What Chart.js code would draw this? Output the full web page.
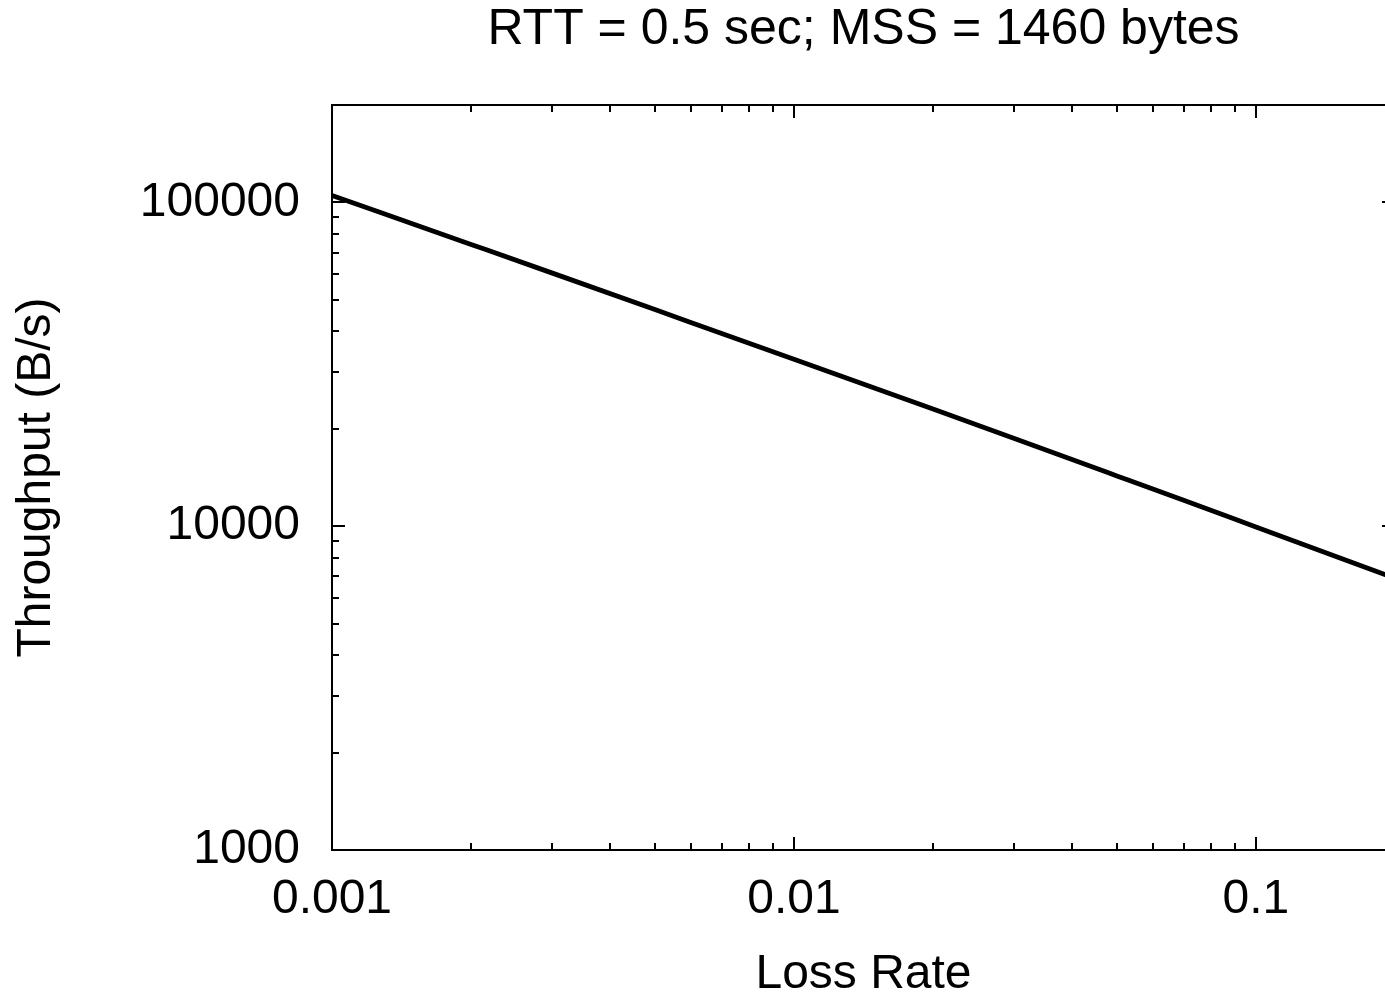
<!DOCTYPE html>
<html>
<head>
<meta charset="utf-8">
<script src="https://cdn.jsdelivr.net/npm/chart.js@4"></script>
<style>
  html, body { margin: 0; padding: 0; background: #fff; overflow: hidden; }
  #wrap { width: 1400px; height: 1000px; position: relative; }
</style>
</head>
<body>
<div id="wrap"><canvas id="chart_throughput"></canvas></div>
<script>
// loss rate (x) and throughput in bytes/s (y)
var lossRate = [0.001, 0.002, 0.003, 0.005, 0.007, 0.01, 0.02, 0.03, 0.05, 0.07, 0.1, 0.15, 0.2];
var throughput = [105100, 74200, 60500, 46700, 39300, 32800, 23000, 18650, 14300, 12000, 9950, 8040, 6910];

var xTickLabels = [0.001, 0.01, 0.1];
var yTickLabels = [1000, 10000, 100000];
var xRange = [0.001, 0.2];
var yRange = [1000, 200000];

Chart.defaults.font.family = '"Liberation Sans", Arial, Helvetica, sans-serif';
Chart.defaults.color = '#000';

// 1..9 x 10^n positions between min and max, decade starts flagged as major
function logTickPositions(min, max) {
    var out = [];
    for (var e = Math.floor(Math.log10(min)); e <= Math.ceil(Math.log10(max)); e++) {
        for (var m = 1; m <= 9; m++) {
            var v = m * Math.pow(10, e);
            if (v >= min * 0.999 && v <= max * 1.001) out.push({ v: v, major: m === 1 });
        }
    }
    return out;
}

var data = lossRate.map(function (p, i) { return { x: p, y: throughput[i] }; });

var chart_throughput = new Chart(document.getElementById('chart_throughput'), {
    type: 'line',
    data: {
        datasets: [
            {
                label: 'Throughput',
                data: data,
                borderColor: '#000',
                borderWidth: 4.8,
                pointRadius: 0,
                cubicInterpolationMode: 'monotone',
                fill: false
            }
        ]
    },
    options: {
        animation: false,
        responsive: true,
        maintainAspectRatio: false,
        devicePixelRatio: 1,
        layout: { padding: { left: 0, top: 0, right: 5, bottom: 0 } },
        plugins: {
            legend: { display: false },
            tooltip: { enabled: false },
            title: {
                display: true,
                fullSize: false,
                text: 'RTT = 0.5 sec; MSS = 1460 bytes',
                color: '#000',
                font: { size: 50, weight: 'normal', lineHeight: 1 },
                padding: { top: 5.5, bottom: 49.5 }
            }
        },
        scales: {
            x: {
                type: 'logarithmic',
                position: 'bottom',
                min: xRange[0],
                max: xRange[1],
                grid: { display: false, drawTicks: false },
                border: { display: false },
                afterBuildTicks: function (scale) {
                    scale.ticks = xTickLabels.map(function (v) { return { value: v }; });
                },
                afterFit: function (scale) { scale.height = 150; },
                ticks: {
                    autoSkip: false,
                    maxRotation: 0,
                    padding: 26,
                    font: { size: 48, lineHeight: 1 },
                    callback: function (v) { return String(v); }
                },
                title: {
                    display: true,
                    text: 'Loss Rate',
                    font: { size: 48, lineHeight: 1 },
                    padding: { top: 0, bottom: 1 }
                }
            },
            y: {
                type: 'logarithmic',
                position: 'left',
                min: yRange[0],
                max: yRange[1],
                grid: { display: false, drawTicks: false },
                border: { display: false },
                afterBuildTicks: function (scale) {
                    scale.ticks = yTickLabels.map(function (v) { return { value: v }; });
                },
                afterFit: function (scale) { scale.width = 332; },
                ticks: {
                    autoSkip: false,
                    padding: 32,
                    font: { size: 48, lineHeight: 1 },
                    callback: function (v) { return String(v); }
                },
                title: {
                    display: true,
                    text: 'Throughput (B/s)',
                    font: { size: 48, lineHeight: 1 },
                    padding: { top: 12.5, bottom: 0 }
                }
            }
        }
    },
    plugins: [{
        id: 'frameTicks',
        beforeDraw: function (chart) {
            var ctx = chart.ctx;
            ctx.save();
            ctx.fillStyle = 'white';
            ctx.fillRect(0, 0, chart.width, chart.height);
            ctx.restore();
        },
        afterDraw: function (chart) {
            var ctx = chart.ctx;
            var a = chart.chartArea;
            var x = chart.scales.x;
            var y = chart.scales.y;
            ctx.save();
            ctx.strokeStyle = '#000';
            ctx.lineWidth = 2;
            ctx.strokeRect(a.left, a.top, a.right - a.left, a.bottom - a.top);
            ctx.beginPath();
            logTickPositions(x.min, x.max).forEach(function (t) {
                var px = Math.round(x.getPixelForValue(t.v));
                var len = t.major ? 13 : 7;
                ctx.moveTo(px, a.bottom);
                ctx.lineTo(px, a.bottom - len);
                ctx.moveTo(px, a.top);
                ctx.lineTo(px, a.top + len);
            });
            logTickPositions(y.min, y.max).forEach(function (t) {
                var py = Math.round(y.getPixelForValue(t.v));
                var len = t.major ? 13 : 7;
                ctx.moveTo(a.left, py);
                ctx.lineTo(a.left + len, py);
                ctx.moveTo(a.right, py);
                ctx.lineTo(a.right - len, py);
            });
            ctx.stroke();
            ctx.restore();
        }
    }]
});
</script>
</body>
</html>
